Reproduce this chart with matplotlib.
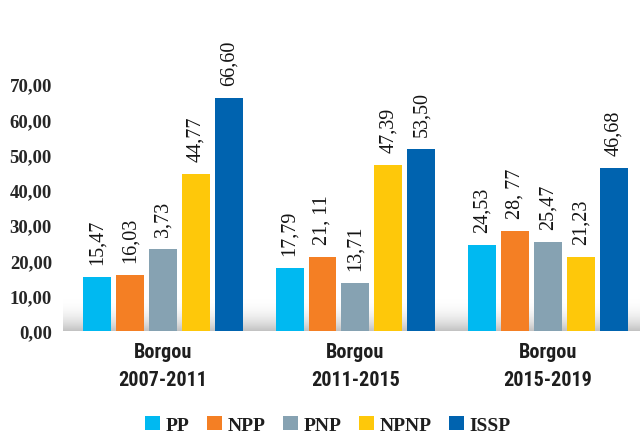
import numpy as np
import matplotlib
matplotlib.use("Agg")
import matplotlib.pyplot as plt
from matplotlib.patches import Patch
from matplotlib.colors import LinearSegmentedColormap

groups = ["Borgou\n2007-2011", "Borgou\n2011-2015", "Borgou\n2015-2019"]
series = ["PP", "NPP", "PNP", "NPNP", "ISSP"]
colors = ["#00B9F1", "#F47F24", "#86A2B2", "#FEC80A", "#0063AF"]
# bar heights
heights = {
    "PP":   [15.2, 17.8, 24.4],
    "NPP":  [15.8, 21.0, 28.3],
    "PNP":  [23.3, 13.6, 25.2],
    "NPNP": [44.4, 47.0, 21.0],
    "ISSP": [66.1, 51.5, 46.1],
}
# value labels as printed on the chart
labels = {
    "PP":   ["15,47", "17,79", "24,53"],
    "NPP":  ["16,03", "21, 11", "28, 77"],
    "PNP":  ["3,73", "13,71", "25,47"],
    "NPNP": ["44,77", "47,39", "21,23"],
    "ISSP": ["66,60", "53,50", "46,68"],
}
yticks = [0, 10, 20, 30, 40, 50, 60, 70]
ytick_labels = ["0,00", "10,00", "20,00", "30,00", "40,00", "50,00", "60,00", "70,00"]

fig = plt.figure(figsize=(6.4, 4.35), dpi=100)
ax = fig.add_axes([63/640, 1 - 332/435, 1 - 63/640, 332/435])

x = np.arange(len(groups))
pitch = 0.171
width = 0.145
for i, s in enumerate(series):
    xs = x + (i - 2) * pitch
    bars = ax.bar(xs, heights[s], width=width, color=colors[i], zorder=3)
    for b, lab in zip(bars, labels[s]):
        ax.annotate(lab, (b.get_x() + b.get_width() / 2, b.get_height()),
                    xytext=(0, 9.5), textcoords="offset points",
                    rotation=90, ha="center", va="bottom",
                    fontsize=14.5, family="Liberation Serif", color="#141414",
                    zorder=4)

# gray gradient at bottom of plot area
grad = np.linspace(0, 1, 100).reshape(-1, 1)
cmap = LinearSegmentedColormap.from_list("g", ["#ffffff", "#c2c2c2"])
ax.imshow(grad ** 2.2, extent=[0, 1, 0, 34/332], transform=ax.transAxes,
          aspect="auto", cmap=cmap, zorder=1, origin="upper")

ax.set_xlim(-0.518, 2.477)
ax.set_ylim(0, 94.1)
ax.set_yticks(yticks)
ax.set_yticklabels(ytick_labels, family="Liberation Serif", fontweight="bold",
                   fontsize=13.5, color="#262626")
ax.set_xticks(x)
ax.set_xticklabels(groups, family=["Roboto Condensed", "Roboto"], fontweight="bold",
                   fontsize=14.5, color="#1e1e1e", linespacing=1.6)
ax.tick_params(axis="y", length=0, pad=8)
ax.tick_params(axis="x", length=0, pad=8)
for sp in ax.spines.values():
    sp.set_visible(False)

handles = [Patch(facecolor=c, edgecolor="none") for c in colors]
leg = fig.legend(handles, series, loc="center", bbox_to_anchor=(328/640, 1 - 426/435),
                 ncol=5, frameon=False, handlelength=0.77, handleheight=0.77,
                 handletextpad=0.26, columnspacing=0.93,
                 prop={"family": "Liberation Serif", "weight": "bold", "size": 14})
for t in leg.get_texts():
    t.set_color("#1e1e1e")

fig.savefig("out.png", dpi=100)
